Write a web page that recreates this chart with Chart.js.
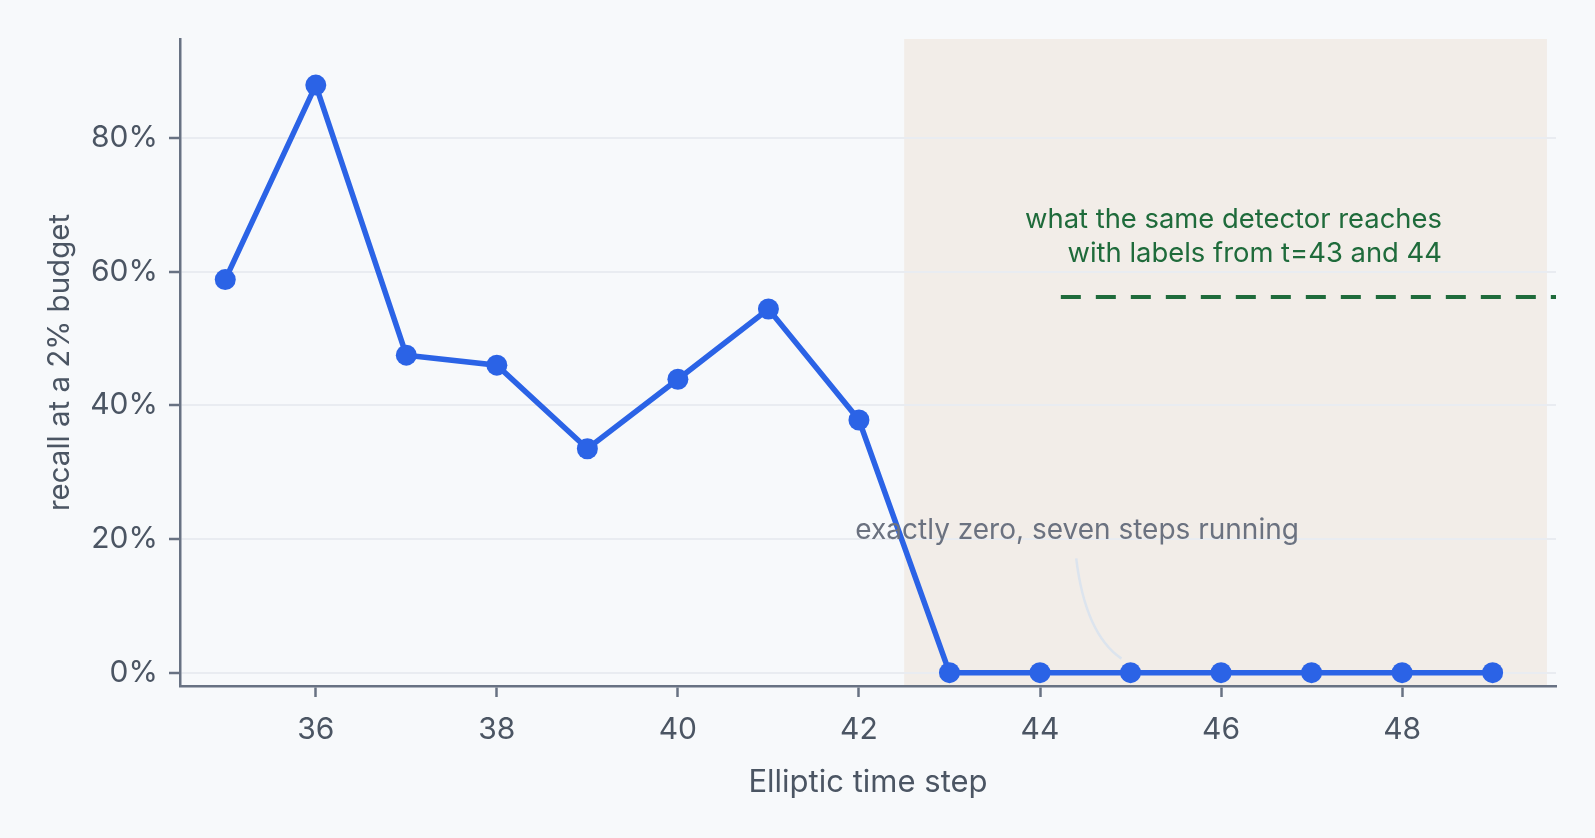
<!DOCTYPE html>
<html>
<head>
<meta charset="utf-8">
<script src="https://cdn.jsdelivr.net/npm/chart.js@4"></script>
<style>
  html, body { margin: 0; padding: 0; background: #f7f9fb; }
  #wrap { width: 1595px; height: 838px; }
</style>
</head>
<body>
<div id="wrap"><canvas id="recallChart"></canvas></div>
<script>
// data
const timeSteps = [35, 36, 37, 38, 39, 40, 41, 42, 43, 44, 45, 46, 47, 48, 49];
const recallPct = [58.8, 87.9, 47.5, 46.0, 33.5, 43.9, 54.4, 37.8, 0, 0, 0, 0, 0, 0, 0];
const xTicks = [36, 38, 40, 42, 44, 46, 48];
const yTicks = [0, 20, 40, 60, 80];
const refStart = [44.23, 49.7];   // dashed reference, x from / to
const refRecall = 56.2;
const shadeFrom = 42.5, shadeTo = 49.6;

const AXIS = '#687283';
const TEXT = '#4b5563';
const FONT = 'Inter, "Noto Sans", sans-serif';

// shaded band + annotations
const extras = {
    id: 'extras',
    beforeDraw(chart) {
        const { ctx, chartArea, scales: { x } } = chart;
        ctx.save();
        ctx.fillStyle = '#f2ede8';
        const x0 = x.getPixelForValue(shadeFrom);
        const x1 = x.getPixelForValue(shadeTo);
        ctx.fillRect(x0, chartArea.top, x1 - x0, chartArea.bottom - chartArea.top);
        ctx.restore();
    },
    afterDatasetsDraw(chart) {
        const { ctx, scales: { x, y } } = chart;
        ctx.save();

        // connector to the flat run
        ctx.strokeStyle = '#dce4ee';
        ctx.lineWidth = 2.5;
        ctx.beginPath();
        ctx.moveTo(x.getPixelForValue(44.4), y.getPixelForValue(17.1));
        ctx.quadraticCurveTo(x.getPixelForValue(44.5), y.getPixelForValue(5.8),
                             x.getPixelForValue(44.9), y.getPixelForValue(2.1));
        ctx.stroke();

        ctx.font = '400 28px ' + FONT;
        ctx.fillStyle = '#6b7280';
        ctx.textAlign = 'center';
        ctx.textBaseline = 'middle';
        ctx.fillText('exactly zero, seven steps running', x.getPixelForValue(44.41), y.getPixelForValue(21.3));

        ctx.fillStyle = '#1f6b3b';
        ctx.textAlign = 'right';
        ctx.font = '400 27.4px ' + FONT;
        const gx = x.getPixelForValue(48.44);
        ctx.fillText('what the same detector reaches', gx, y.getPixelForValue(67.8));
        ctx.fillText('with labels from t=43 and 44', gx, y.getPixelForValue(62.6));
        ctx.restore();
    }
};

new Chart(document.getElementById('recallChart'), {
    type: 'line',
    data: {
        datasets: [{
            data: timeSteps.map((t, i) => ({ x: t, y: recallPct[i] })),
            borderColor: '#2b63e6',
            backgroundColor: '#2b63e6',
            borderWidth: 5.5,
            pointRadius: 10.5,
            pointBorderWidth: 0,
            tension: 0
        }, {
            data: refStart.map(t => ({ x: t, y: refRecall })),
            borderColor: '#1f6b3b',
            borderWidth: 4,
            borderDash: [20, 15],
            pointRadius: 0,
            tension: 0
        }]
    },
    plugins: [extras],
    options: {
        responsive: true,
        maintainAspectRatio: false,
        animation: false,
        events: [],
        layout: { padding: { top: 39, right: 39, left: 0, bottom: 0 } },
        plugins: { legend: { display: false }, tooltip: { enabled: false } },
        scales: {
            x: {
                type: 'linear',
                min: 34.5,
                max: 49.7,
                afterBuildTicks: s => { s.ticks = xTicks.map(v => ({ value: v })); },
                afterFit: s => { s.height = 152; },
                grid: { drawOnChartArea: false, tickLength: 11, tickWidth: 2.5, tickColor: AXIS },
                border: { color: AXIS, width: 2.5 },
                ticks: { color: TEXT, padding: 15, font: { family: FONT, size: 30 } },
                title: {
                    display: true, text: 'Elliptic time step', color: TEXT,
                    font: { family: FONT, size: 31 }, padding: { top: 0, bottom: 37 }
                }
            },
            y: {
                min: -2,
                max: 94.8,
                afterBuildTicks: s => { s.ticks = yTicks.map(v => ({ value: v })); },
                afterFit: s => { s.width = 180; },
                grid: { color: '#e9ecf1', lineWidth: 2, tickLength: 11, tickWidth: 2.5, tickColor: AXIS },
                border: { color: AXIS, width: 2.5 },
                ticks: {
                    color: TEXT, padding: 11, font: { family: FONT, size: 30 },
                    callback: v => v + '%'
                },
                title: {
                    display: true, text: 'recall at a 2% budget', color: TEXT,
                    font: { family: FONT, size: 29.5 }, padding: { top: 42, bottom: 0 }
                }
            }
        }
    }
});
</script>
</body>
</html>
